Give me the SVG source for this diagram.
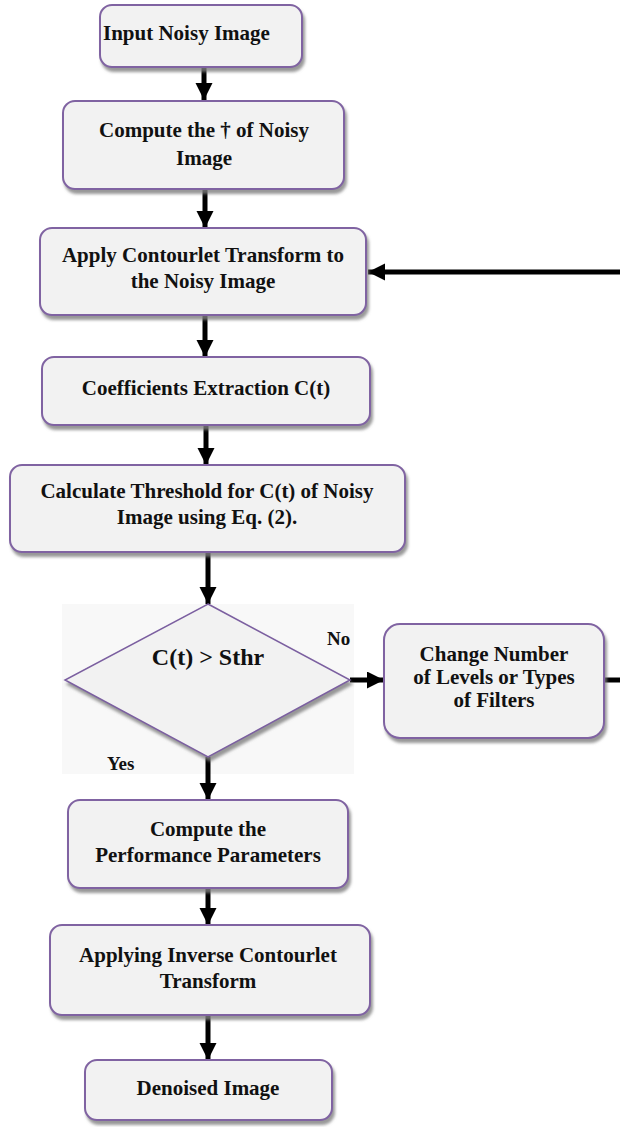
<svg xmlns="http://www.w3.org/2000/svg" width="620" height="1127" viewBox="0 0 620 1127">
<defs>
<filter id="sh" x="-10%" y="-10%" width="125%" height="135%">
<feDropShadow dx="2" dy="4" stdDeviation="1.5" flood-color="#7f7f7f" flood-opacity="0.8"/>
</filter>
<marker id="ah" markerUnits="userSpaceOnUse" markerWidth="18" markerHeight="18" refX="17" refY="8.5" orient="auto">
<path d="M0,0 L17,8.5 L0,17 Z" fill="#000"/>
</marker>
</defs>
<style>
.box{fill:#f2f2f2;stroke:#8064a2;stroke-width:2;filter:url(#sh)}
.dia{fill:#f2f2f2;stroke:#7b5fa0;stroke-width:1.5;filter:url(#sh)}
.t{font-family:"Liberation Serif","Times New Roman",serif;font-weight:bold;font-size:21px;fill:#111;text-anchor:middle}
.lbl{font-family:"Liberation Serif","Times New Roman",serif;font-weight:bold;font-size:19px;fill:#111}
.c{stroke:#000;stroke-width:5;fill:none}
</style>
<rect x="62" y="604" width="292" height="170" fill="#f8f8f8"/>
<g id="connectors">
<line class="c" x1="204" y1="67" x2="204" y2="100" marker-end="url(#ah)"/>
<line class="c" x1="205" y1="189" x2="205" y2="228" marker-end="url(#ah)"/>
<line class="c" x1="620" y1="272" x2="368" y2="272" marker-end="url(#ah)"/>
<line class="c" x1="205" y1="316" x2="205" y2="357" marker-end="url(#ah)"/>
<line class="c" x1="206" y1="426" x2="206" y2="465" marker-end="url(#ah)"/>
<line class="c" x1="208" y1="553" x2="208" y2="604" marker-end="url(#ah)"/>
<line class="c" x1="350" y1="680" x2="384" y2="680" marker-end="url(#ah)"/>
<line class="c" x1="604" y1="680" x2="620" y2="680"/>
<line class="c" x1="208" y1="757" x2="208" y2="800" marker-end="url(#ah)"/>
<line class="c" x1="208" y1="889" x2="208" y2="925" marker-end="url(#ah)"/>
<line class="c" x1="208" y1="1016" x2="208" y2="1060" marker-end="url(#ah)"/>
</g>
<g id="n1"><rect class="box" x="100" y="5" width="202" height="62" rx="12"/><text class="t" x="103" y="40" style="text-anchor:start">Input Noisy Image</text></g>
<g id="n2"><rect class="box" x="63" y="101" width="281" height="88" rx="12"/><text class="t" x="204" y="137">Compute the †  of Noisy</text><text class="t" x="204" y="165">Image</text></g>
<g id="n3"><rect class="box" x="40" y="228" width="326" height="87" rx="12"/><text class="t" x="203" y="262">Apply Contourlet Transform to</text><text class="t" x="203" y="288">the Noisy Image</text></g>
<g id="n4"><rect class="box" x="42" y="357" width="328" height="68" rx="12"/><text class="t" x="206" y="395">Coefficients Extraction C(t)</text></g>
<g id="n5"><rect class="box" x="10" y="465" width="395" height="87" rx="12"/><text class="t" x="207" y="498">Calculate Threshold for C(t) of Noisy</text><text class="t" x="207" y="524">Image using Eq. (2).</text></g>
<g id="n6"><polygon class="dia" points="208,604 350,680 208,757 65,680"/><text class="t" x="208" y="665" style="font-size:24px">C(t) &gt; Sthr</text></g>
<g id="n7"><rect class="box" x="384" y="624" width="220" height="114" rx="16"/><text class="t" x="494" y="661">Change Number</text><text class="t" x="494" y="684">of Levels or Types</text><text class="t" x="494" y="707">of Filters</text></g>
<g id="n8"><rect class="box" x="68" y="800" width="280" height="88" rx="12"/><text class="t" x="208" y="836">Compute the</text><text class="t" x="208" y="862">Performance Parameters</text></g>
<g id="n9"><rect class="box" x="50" y="925" width="320" height="90" rx="12"/><text class="t" x="208" y="962">Applying Inverse Contourlet</text><text class="t" x="208" y="988">Transform</text></g>
<g id="n10"><rect class="box" x="85" y="1060" width="247" height="60" rx="12"/><text class="t" x="208" y="1095">Denoised Image</text></g>
<text class="lbl" x="327" y="645">No</text>
<text class="lbl" x="107" y="770">Yes</text>
</svg>
